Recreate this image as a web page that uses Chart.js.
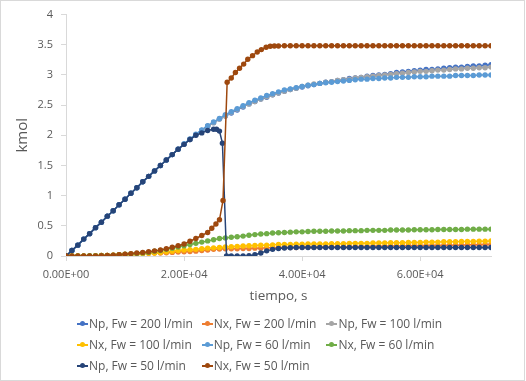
<!DOCTYPE html>
<html>
<head>
<meta charset="utf-8">
<script src="https://cdn.jsdelivr.net/npm/chart.js@4"></script>
<style>
body { margin: 0; background: #fff; }
#frame { position: absolute; left: 0; top: 0; width: 523px; height: 379px; border: 1px solid #D9D9D9; }
#chart { position: absolute; left: 0; top: 0; }
#legend { position: absolute; left: 0; top: 0; font-family: "Open Sans"; font-size: 12px; color: #595959; }
.item { position: absolute; height: 18px; white-space: nowrap; }
.sym { position: absolute; left: 0; top: 8px; width: 11px; height: 1.5px; }
.dot { position: absolute; left: 3px; top: -2px; width: 5px; height: 5px; border-radius: 50%; }
.txt { position: absolute; left: 12px; top: 0; line-height: 18px; }
</style>
</head>
<body>
<div id="frame"></div>
<canvas id="chart" width="526" height="381"></canvas>
<div id="legend"></div>
<script>
// tiempo, s
const tiempo = [0,1000,2000,3000,4000,5000,6000,7000,8000,9000,
  10000,11000,12000,13000,14000,15000,16000,17000,18000,19000,
  20000,21000,22000,23000,24000,25000,26000,27000,28000,29000,
  30000,31000,32000,33000,34000,35000,36000,37000,38000,39000,
  40000,41000,42000,43000,44000,45000,46000,47000,48000,49000,
  50000,51000,52000,53000,54000,55000,56000,57000,58000,59000,
  60000,61000,62000,63000,64000,65000,66000,67000,68000,69000,
  70000,71000,72000];

const npFw200 = [0,0.09,0.18,0.28,0.37,0.47,0.56,0.66,0.75,0.85,
  0.94,1.04,1.13,1.23,1.32,1.41,1.50,1.59,1.68,1.77,
  1.85,1.93,2.01,2.08,2.15,2.21,2.27,2.32,2.37,2.42,
  2.47,2.52,2.56,2.60,2.63,2.67,2.70,2.73,2.76,2.78,
  2.80,2.82,2.84,2.86,2.88,2.89,2.91,2.92,2.94,2.95,
  2.96,2.98,2.99,3.00,3.01,3.02,3.04,3.05,3.06,3.07,
  3.08,3.09,3.09,3.10,3.11,3.12,3.13,3.13,3.14,3.15,
  3.15,3.16,3.17];

const nxFw200 = [0,0,0,0,0,0.005,0.01,0.01,0.015,0.02,
  0.025,0.03,0.035,0.04,0.045,0.05,0.05,0.055,0.06,0.065,
  0.07,0.075,0.08,0.09,0.1,0.11,0.115,0.12,0.12,0.12,
  0.125,0.125,0.13,0.13,0.135,0.135,0.14,0.14,0.14,0.14,
  0.145,0.145,0.145,0.145,0.15,0.15,0.15,0.15,0.15,0.155,
  0.155,0.155,0.16,0.16,0.16,0.165,0.165,0.165,0.17,0.17,
  0.17,0.17,0.175,0.175,0.175,0.18,0.18,0.18,0.185,0.185,
  0.185,0.19,0.19];

const npFw100 = [0,0.09,0.18,0.28,0.37,0.47,0.56,0.66,0.75,0.85,
  0.94,1.04,1.13,1.23,1.32,1.41,1.50,1.59,1.68,1.77,
  1.85,1.93,2.01,2.08,2.15,2.21,2.27,2.32,2.38,2.43,
  2.48,2.52,2.56,2.60,2.64,2.67,2.70,2.73,2.76,2.78,
  2.81,2.83,2.85,2.86,2.88,2.89,2.91,2.92,2.93,2.95,
  2.96,2.97,2.98,2.99,3.00,3.01,3.02,3.03,3.04,3.05,
  3.06,3.06,3.07,3.08,3.08,3.09,3.10,3.10,3.11,3.11,
  3.12,3.12,3.13];

const nxFw100 = [0,0,0,0,0,0.005,0.01,0.01,0.015,0.02,
  0.025,0.03,0.035,0.04,0.045,0.05,0.06,0.07,0.08,0.09,
  0.1,0.105,0.11,0.12,0.13,0.135,0.14,0.15,0.155,0.16,
  0.165,0.17,0.175,0.18,0.18,0.185,0.19,0.19,0.19,0.195,
  0.195,0.2,0.2,0.2,0.2,0.205,0.205,0.205,0.21,0.21,
  0.21,0.21,0.215,0.215,0.215,0.22,0.22,0.22,0.225,0.225,
  0.225,0.23,0.23,0.23,0.235,0.235,0.235,0.24,0.24,0.24,
  0.245,0.245,0.25];

const npFw60 = [0,0.09,0.18,0.28,0.37,0.47,0.56,0.66,0.75,0.85,
  0.94,1.04,1.13,1.23,1.32,1.41,1.50,1.59,1.68,1.77,
  1.86,1.94,2.02,2.09,2.16,2.22,2.28,2.34,2.39,2.44,
  2.49,2.54,2.58,2.62,2.66,2.69,2.72,2.75,2.77,2.79,
  2.81,2.83,2.84,2.86,2.87,2.88,2.89,2.90,2.91,2.92,
  2.93,2.93,2.94,2.94,2.95,2.95,2.96,2.96,2.96,2.97,
  2.97,2.97,2.98,2.98,2.98,2.98,2.99,2.99,2.99,2.99,
  3.00,3.00,3.00];

const nxFw60 = [0,0,0,0,0.005,0.005,0.01,0.01,0.015,0.02,
  0.03,0.035,0.04,0.05,0.06,0.08,0.09,0.11,0.13,0.15,
  0.17,0.19,0.21,0.23,0.25,0.27,0.29,0.30,0.31,0.32,
  0.33,0.345,0.355,0.365,0.37,0.38,0.385,0.39,0.395,0.40,
  0.40,0.405,0.41,0.41,0.41,0.415,0.415,0.415,0.42,0.42,
  0.42,0.425,0.425,0.425,0.425,0.43,0.43,0.43,0.43,0.435,
  0.435,0.435,0.435,0.44,0.44,0.44,0.44,0.44,0.445,0.445,
  0.445,0.445,0.445];

// Fw = 50 l/min has extra points around the jump
const tiempo50p = [0,1000,2000,3000,4000,5000,6000,7000,8000,9000,
  10000,11000,12000,13000,14000,15000,16000,17000,18000,19000,
  20000,21000,22000,23000,24000,25000,25500,26000,26500,27200,
  28000,29000,30000,31000,32000,33000,34000,35000,36000,37000,
  38000,39000,40000,41000,42000,43000,44000,45000,46000,47000,
  48000,49000,50000,51000,52000,53000,54000,55000,56000,57000,
  58000,59000,60000,61000,62000,63000,64000,65000,66000,67000,
  68000,69000,70000,71000,72000];

const npFw50 = [0,0.09,0.18,0.28,0.37,0.47,0.56,0.66,0.75,0.85,
  0.94,1.04,1.13,1.23,1.32,1.41,1.50,1.59,1.68,1.77,
  1.85,1.93,2.00,2.04,2.08,2.10,2.10,2.07,1.87,0,
  0,0,0,0.005,0.02,0.05,0.085,0.11,0.125,0.133,
  0.137,0.14,0.14,0.14,0.14,0.14,0.14,0.14,0.14,0.14,
  0.14,0.14,0.14,0.14,0.14,0.14,0.14,0.14,0.14,0.14,
  0.14,0.14,0.14,0.14,0.14,0.14,0.14,0.14,0.14,0.14,
  0.14,0.14,0.14,0.14,0.14];

const tiempo50x = [0,1000,2000,3000,4000,5000,6000,7000,8000,9000,
  10000,11000,12000,13000,14000,15000,16000,17000,18000,19000,
  20000,21000,22000,23000,24000,24700,25400,26000,26600,27300,
  28000,28700,29400,30100,30800,31600,32400,33100,33900,34600,
  35300,36000,37000,38000,39000,40000,41000,42000,43000,44000,
  45000,46000,47000,48000,49000,50000,51000,52000,53000,54000,
  55000,56000,57000,58000,59000,60000,61000,62000,63000,64000,
  65000,66000,67000,68000,69000,70000,71000,72000];

const nxFw50 = [0,0,0,0,0,0,0.005,0.01,0.015,0.02,
  0.03,0.04,0.05,0.06,0.07,0.085,0.1,0.12,0.145,0.17,
  0.2,0.245,0.29,0.34,0.39,0.46,0.53,0.6,0.92,2.88,
  2.95,3.04,3.11,3.18,3.26,3.32,3.38,3.42,3.46,3.475,
  3.48,3.48,3.485,3.485,3.485,3.485,3.485,3.485,3.485,3.485,
  3.485,3.485,3.485,3.485,3.485,3.485,3.485,3.485,3.485,3.485,
  3.485,3.485,3.485,3.485,3.485,3.485,3.485,3.485,3.485,3.485,
  3.485,3.485,3.485,3.485,3.485,3.485,3.485,3.485];

const labels = ['Np, Fw = 200 l/min', 'Nx, Fw = 200 l/min', 'Np, Fw = 100 l/min',
  'Nx, Fw = 100 l/min', 'Np, Fw = 60 l/min', 'Nx, Fw = 60 l/min',
  'Np, Fw = 50 l/min', 'Nx, Fw = 50 l/min'];
const colors = ['#4472C4', '#ED7D31', '#A5A5A5', '#FFC000', '#5B9BD5', '#70AD47', '#264478', '#9E480E'];
const xTicks = [0, 20000, 40000, 60000];

function pts(xs, ys) {
  return xs.map((x, i) => ({ x: x, y: ys[i] }));
}

function sci(v) {
  if (v === 0) return '0.00E+00';
  const e = Math.floor(Math.log10(v));
  return (v / Math.pow(10, e)).toFixed(2) + 'E+' + String(e).padStart(2, '0');
}

const series = [
  pts(tiempo, npFw200), pts(tiempo, nxFw200), pts(tiempo, npFw100), pts(tiempo, nxFw100),
  pts(tiempo, npFw60), pts(tiempo, nxFw60), pts(tiempo50p, npFw50), pts(tiempo50x, nxFw50)
];

const datasets = series.map((d, i) => ({
  label: labels[i],
  data: d,
  borderColor: colors[i],
  backgroundColor: colors[i],
  borderWidth: 1.5,
  pointRadius: 2.7,
  pointBorderWidth: 0,
  pointHoverRadius: 2.7,
  order: 10 - i
}));

const font = 'Open Sans';

new Chart(document.getElementById('chart'), {
  type: 'line',
  data: { datasets: datasets },
  options: {
    responsive: false,
    animation: false,
    layout: { padding: { left: 14, top: 13, right: 35, bottom: 77 } },
    plugins: { legend: { display: false }, tooltip: { enabled: false } },
    scales: {
      x: {
        type: 'linear',
        min: 0,
        max: 72000,
        afterFit: s => { s.height = 48; },
        afterBuildTicks: s => { s.ticks = xTicks.map(v => ({ value: v })); },
        ticks: { color: '#595959', font: { family: font, size: 11 }, padding: 7, maxRotation: 0,
          callback: v => sci(v) },
        grid: { drawOnChartArea: false, color: '#D9D9D9', tickLength: 5 },
        border: { color: '#D9D9D9' },
        title: { display: true, text: 'tiempo, s', color: '#595959',
          font: { family: font, size: 13.5 }, padding: 0 }
      },
      y: {
        min: 0,
        max: 4,
        afterFit: s => { s.width = 52; },
        ticks: { stepSize: 0.5, color: '#595959', font: { family: font, size: 11 }, padding: 8,
          callback: v => String(v) },
        grid: { drawOnChartArea: false, color: '#D9D9D9', tickLength: 5 },
        border: { color: '#D9D9D9' },
        title: { display: true, text: 'kmol', color: '#595959',
          font: { family: font, size: 15 }, padding: 0 }
      }
    }
  }
});

// legend laid out in three columns like the original
const legend = document.getElementById('legend');
labels.forEach((name, i) => {
  const item = document.createElement('div');
  item.className = 'item';
  item.style.left = (77 + (i % 3) * 124.7) + 'px';
  item.style.top = (315 + Math.floor(i / 3) * 21.2) + 'px';
  item.innerHTML = '<div class="sym" style="background:' + colors[i] + '"><div class="dot" style="background:' +
    colors[i] + '"></div></div><span class="txt">' + name + '</span>';
  legend.appendChild(item);
});
</script>
</body>
</html>
